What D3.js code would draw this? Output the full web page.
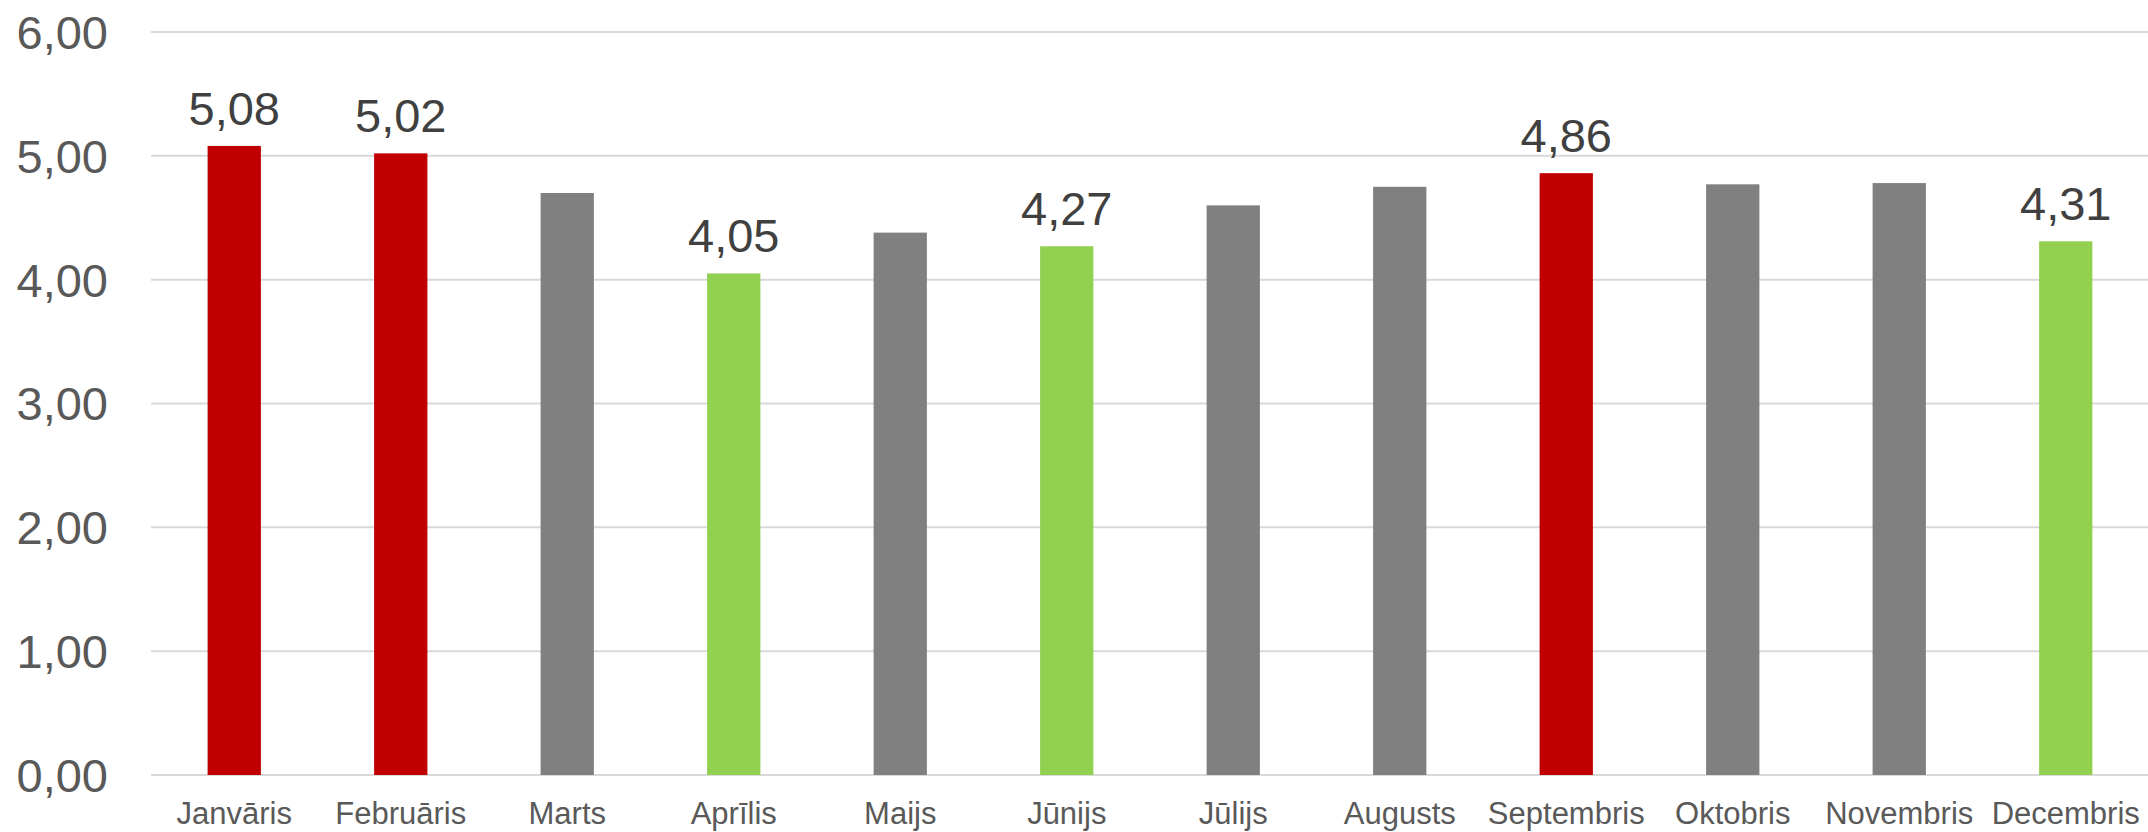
<!DOCTYPE html>
<html>
<head>
<meta charset="utf-8">
<script src="https://cdn.jsdelivr.net/npm/d3@7"></script>
<style>
  html, body { margin: 0; padding: 0; background: #fff; }
  svg { display: block; }
</style>
</head>
<body>
<svg id="chart" width="2148" height="832"></svg>
<script>
// Monthly values
const months = ["Janvāris", "Februāris", "Marts", "Aprīlis", "Maijs", "Jūnijs",
                "Jūlijs", "Augusts", "Septembris", "Oktobris", "Novembris", "Decembris"];
const values = [5.08, 5.02, 4.70, 4.05, 4.38, 4.27, 4.60, 4.75, 4.86, 4.77, 4.78, 4.31];
// Bar group: "high", "low" or "mid"
const groups = ["high", "high", "mid", "low", "mid", "low", "mid", "mid", "high", "mid", "mid", "low"];
// Months whose value is printed above the bar
const labelled = [true, true, false, true, false, true, false, false, true, false, false, true];
const yTicks = [0, 1, 2, 3, 4, 5, 6];

const colors = { high: "#c00000", mid: "#808080", low: "#92d050" };
const fmt = v => d3.format(".2f")(v).replace(".", ",");

const svg = d3.select("#chart");
const plotLeft = 151, plotRight = 2149, plotTop = 32, plotBottom = 775;

const x = d3.scaleBand().domain(months).range([plotLeft, plotRight])
  .paddingInner(0.68).paddingOuter(0.34);
const y = d3.scaleLinear().domain([0, 6]).range([plotBottom, plotTop]);

// Horizontal gridlines
svg.append("g").selectAll("line").data(yTicks).join("line")
  .attr("x1", plotLeft).attr("x2", 2148)
  .attr("y1", d => y(d)).attr("y2", d => y(d))
  .attr("stroke", "#d9d9d9").attr("stroke-width", 2);

// Y axis labels
const yAxis = d3.axisLeft(y).tickValues(yTicks).tickFormat(fmt).tickSize(0).tickPadding(0);
svg.append("g").attr("transform", "translate(108,0)").call(yAxis)
  .call(g => g.select(".domain").remove())
  .selectAll("text")
  .attr("font-family", "Liberation Sans, Arial, sans-serif")
  .attr("font-size", 47).attr("fill", "#595959").attr("dy", "0.35em");

// Bars
svg.append("g").selectAll("rect").data(months).join("rect")
  .attr("x", d => x(d)).attr("width", x.bandwidth())
  .attr("y", (d, i) => y(values[i]))
  .attr("height", (d, i) => y(0) - y(values[i]))
  .attr("fill", (d, i) => colors[groups[i]]);

// Value labels
svg.append("g").selectAll("text").data(months.filter((d, i) => labelled[i])).join("text")
  .attr("x", d => x(d) + x.bandwidth() / 2)
  .attr("y", d => y(values[months.indexOf(d)]) - 21)
  .attr("text-anchor", "middle")
  .attr("font-family", "Liberation Sans, Arial, sans-serif")
  .attr("font-size", 47).attr("fill", "#404040")
  .text(d => fmt(values[months.indexOf(d)]));

// X axis labels
const xAxis = d3.axisBottom(x).tickSize(0).tickPadding(0);
svg.append("g").attr("transform", `translate(0,${plotBottom})`).call(xAxis)
  .call(g => g.select(".domain").remove())
  .selectAll("text")
  .attr("font-family", "Liberation Sans, Arial, sans-serif")
  .attr("font-size", 31).attr("fill", "#595959")
  .attr("dy", null).attr("y", 49);
</script>
</body>
</html>
